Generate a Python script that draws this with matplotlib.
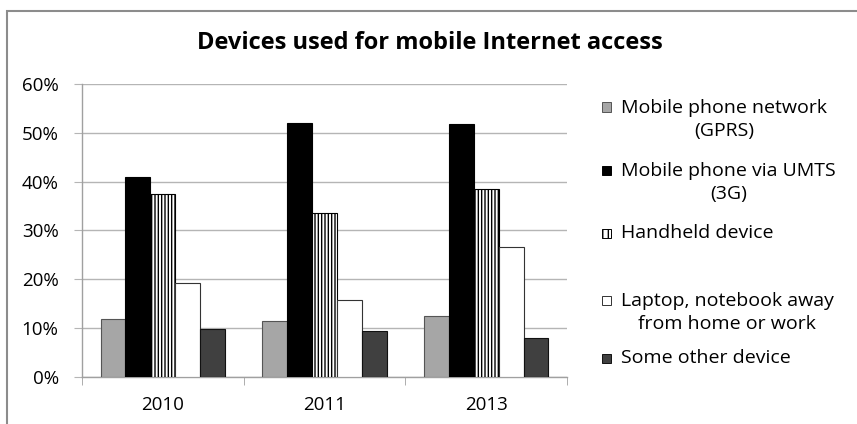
import matplotlib.pyplot as plt
import numpy as np
from matplotlib.patches import Rectangle
from matplotlib.ticker import FuncFormatter, MultipleLocator

plt.rcParams['font.family'] = ['Open Sans', 'DejaVu Sans']

years = ['2010', '2011', '2013']
gprs = [11.9, 11.4, 12.4]
umts = [40.9, 52.1, 51.9]
handheld = [37.5, 33.5, 38.5]
laptop = [19.3, 15.7, 26.6]
other = [9.8, 9.4, 7.9]

series = [
    ('Mobile phone network\n(GPRS)', gprs, dict(color='#a6a6a6', edgecolor='#555555')),
    ('Mobile phone via UMTS\n(3G)', umts, dict(color='black', edgecolor='black')),
    ('Handheld device', handheld, dict(color='white', edgecolor='black', hatch='|||||')),
    ('Laptop, notebook away\nfrom home or work', laptop, dict(color='white', edgecolor='#333333')),
    ('Some other device', other, dict(color='#404040', edgecolor='#111111')),
]

W, H = 857, 424
fig = plt.figure(figsize=(W / 100, H / 100), dpi=100)
ax = fig.add_axes([82 / W, 1 - 376.7 / H, 485 / W, (376.7 - 84) / H])

x = np.arange(len(years))
bw = 0.154
for i, (name, vals, style) in enumerate(series):
    ax.bar(x + (i - 2) * bw, vals, width=bw, linewidth=0.8, zorder=3, **style)

ax.set_xlim(-0.5, len(years) - 0.5)
ax.set_ylim(0, 60)
ax.yaxis.set_major_locator(MultipleLocator(10))
ax.yaxis.set_major_formatter(FuncFormatter(lambda v, p: f'{v:.0f}%'))
ax.grid(axis='y', color='#b5b5b5', linewidth=1.0, zorder=0)
ax.set_axisbelow(True)

for s in ['top', 'right']:
    ax.spines[s].set_visible(False)
for s in ['bottom', 'left']:
    ax.spines[s].set_color('#a0a0a0')
    ax.spines[s].set_linewidth(1.0)

ax.set_xticks(x)
ax.set_xticklabels(years, fontsize=13.5)
ax.tick_params(axis='x', length=0, pad=14)
ax.set_xticks(np.arange(len(years) + 1) - 0.5, minor=True)
ax.tick_params(axis='x', which='minor', length=6, color='#a0a0a0', direction='out')
ax.tick_params(axis='y', length=5.8, color='#b5b5b5', labelsize=13.5, pad=11)

fig.text(430 / W, 1 - 43 / H, 'Devices used for mobile Internet access',
         ha='center', va='center', fontsize=17, fontweight='bold')

# legend entries placed by hand so wrapped labels stay centred
line_h = 25
leg_y = [107, 170, 233, 300, 358]
for (name, vals, style), ly in zip(series, leg_y):
    n = name.count('\n') + 1
    fig.patches.append(Rectangle((602 / W, 1 - (ly + 4.5) / H), 9 / W, 9 / H,
                                 transform=fig.transFigure, facecolor=style['color'],
                                 edgecolor=style['edgecolor'], linewidth=0.7,
                                 hatch='|||' if 'hatch' in style else None))
    fig.text(621 / W, 1 - (ly + (n - 1) * line_h / 2) / H, name, ha='left', va='center',
             multialignment='center', fontsize=14, linespacing=1.3)

# outer chart border
fig.patches.append(Rectangle((7 / W, -0.1), 1.2, 1 - 11 / H + 0.1,
                             transform=fig.transFigure, facecolor='none',
                             edgecolor='#8c8c8c', linewidth=1.5))

fig.savefig('out.png', dpi=100)
